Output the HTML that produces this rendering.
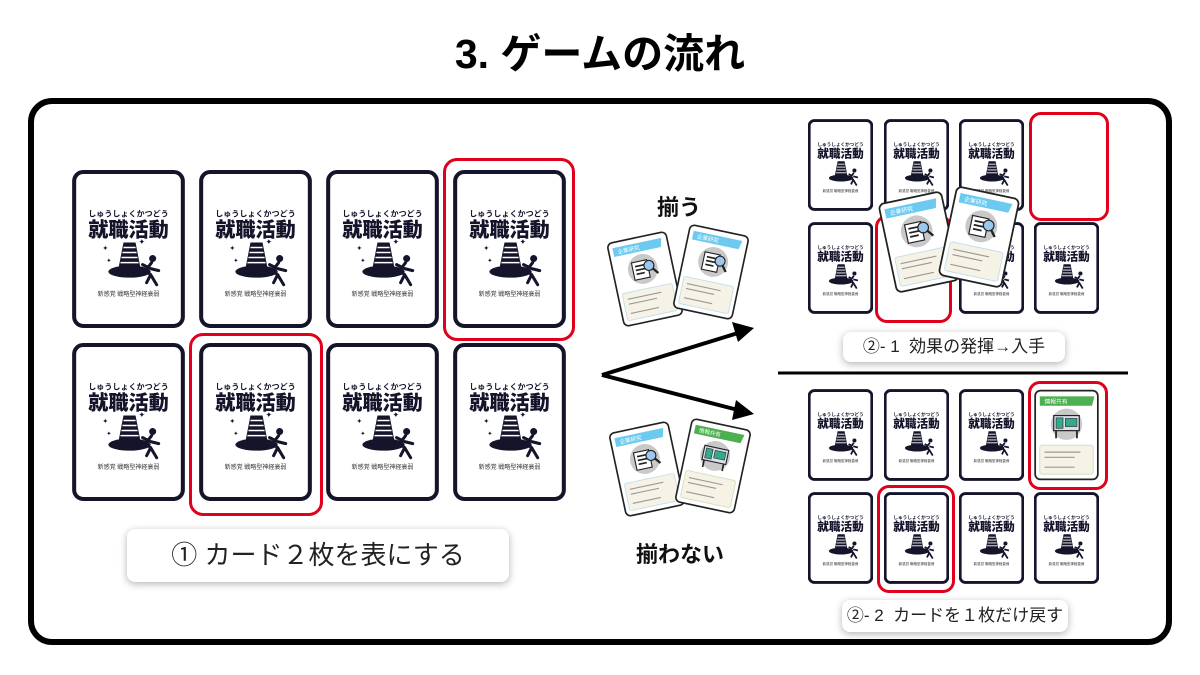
<!DOCTYPE html>
<html><head><meta charset="utf-8"><style>
body{margin:0;width:1200px;height:675px;background:#fff;position:relative;overflow:hidden;font-family:"Liberation Sans","Noto Sans CJK JP",sans-serif;}
.a{position:absolute}
.frame{left:28px;top:98px;width:1132px;height:535px;border:6px solid #000;border-radius:24px}
.title{left:0;width:1200px;top:20px;text-align:center;font-size:41px;font-weight:bold;color:#000}
.c{position:absolute}
.c svg{width:100%;height:100%;display:block}
.red{position:absolute;border:3px solid #e0001b;border-radius:12px}
.lbl{position:absolute;background:#fff;border-radius:8px;box-shadow:0 2px 8px rgba(0,0,0,.3);text-align:center;color:#222}
.bw{position:absolute;font-weight:bold;font-size:22px;color:#111}
</style></head><body>
<div class="a title">3. ゲームの流れ</div>
<div class="a frame"></div>

<div class="red" style="left:443px;top:158px;width:126px;height:177px;border-radius:14px"></div>
<div class="red" style="left:189px;top:333px;width:128px;height:177px;border-radius:14px"></div>

<div class="c" style="left:72px;top:170px;width:113px;height:158px"><svg viewBox="0 0 112 157"><rect x="2" y="2" width="108" height="153" rx="9" fill="#fff" stroke="#14142b" stroke-width="4"/><text x="56" y="46" font-size="8" font-weight="bold" text-anchor="middle" fill="#14142b">しゅうしょくかつどう</text><text x="56" y="66" font-size="20" font-weight="900" text-anchor="middle" fill="#14142b">就職活動</text><path d="M46 98 L51 72 L63 72 L68 98Z" fill="#14142b"/><path d="M51 77H63M50 82H64M49 87H65M48 92H66" stroke="#fff" stroke-width="1.5"/><ellipse cx="57" cy="101" rx="21" ry="6" fill="#14142b"/><circle cx="80" cy="88" r="3.5" fill="#14142b"/><path d="M79 92 L73 100 L78 104 L84 114 M76 97 L70 94 M78 98 L86 100 M78 104 L74 112" stroke="#14142b" stroke-width="3" fill="none" stroke-linecap="round"/><text x="30" y="80" font-size="7" fill="#14142b">✦</text><text x="34" y="92" font-size="6" fill="#14142b">✦</text><text x="66" y="74" font-size="8" fill="#14142b">✦</text><text x="56" y="125" font-size="6" text-anchor="middle" fill="#333">新感覚 戦略型神経衰弱</text></svg></div>
<div class="c" style="left:199px;top:170px;width:113px;height:158px"><svg viewBox="0 0 112 157"><rect x="2" y="2" width="108" height="153" rx="9" fill="#fff" stroke="#14142b" stroke-width="4"/><text x="56" y="46" font-size="8" font-weight="bold" text-anchor="middle" fill="#14142b">しゅうしょくかつどう</text><text x="56" y="66" font-size="20" font-weight="900" text-anchor="middle" fill="#14142b">就職活動</text><path d="M46 98 L51 72 L63 72 L68 98Z" fill="#14142b"/><path d="M51 77H63M50 82H64M49 87H65M48 92H66" stroke="#fff" stroke-width="1.5"/><ellipse cx="57" cy="101" rx="21" ry="6" fill="#14142b"/><circle cx="80" cy="88" r="3.5" fill="#14142b"/><path d="M79 92 L73 100 L78 104 L84 114 M76 97 L70 94 M78 98 L86 100 M78 104 L74 112" stroke="#14142b" stroke-width="3" fill="none" stroke-linecap="round"/><text x="30" y="80" font-size="7" fill="#14142b">✦</text><text x="34" y="92" font-size="6" fill="#14142b">✦</text><text x="66" y="74" font-size="8" fill="#14142b">✦</text><text x="56" y="125" font-size="6" text-anchor="middle" fill="#333">新感覚 戦略型神経衰弱</text></svg></div>
<div class="c" style="left:326px;top:170px;width:113px;height:158px"><svg viewBox="0 0 112 157"><rect x="2" y="2" width="108" height="153" rx="9" fill="#fff" stroke="#14142b" stroke-width="4"/><text x="56" y="46" font-size="8" font-weight="bold" text-anchor="middle" fill="#14142b">しゅうしょくかつどう</text><text x="56" y="66" font-size="20" font-weight="900" text-anchor="middle" fill="#14142b">就職活動</text><path d="M46 98 L51 72 L63 72 L68 98Z" fill="#14142b"/><path d="M51 77H63M50 82H64M49 87H65M48 92H66" stroke="#fff" stroke-width="1.5"/><ellipse cx="57" cy="101" rx="21" ry="6" fill="#14142b"/><circle cx="80" cy="88" r="3.5" fill="#14142b"/><path d="M79 92 L73 100 L78 104 L84 114 M76 97 L70 94 M78 98 L86 100 M78 104 L74 112" stroke="#14142b" stroke-width="3" fill="none" stroke-linecap="round"/><text x="30" y="80" font-size="7" fill="#14142b">✦</text><text x="34" y="92" font-size="6" fill="#14142b">✦</text><text x="66" y="74" font-size="8" fill="#14142b">✦</text><text x="56" y="125" font-size="6" text-anchor="middle" fill="#333">新感覚 戦略型神経衰弱</text></svg></div>
<div class="c" style="left:453px;top:170px;width:113px;height:158px"><svg viewBox="0 0 112 157"><rect x="2" y="2" width="108" height="153" rx="9" fill="#fff" stroke="#14142b" stroke-width="4"/><text x="56" y="46" font-size="8" font-weight="bold" text-anchor="middle" fill="#14142b">しゅうしょくかつどう</text><text x="56" y="66" font-size="20" font-weight="900" text-anchor="middle" fill="#14142b">就職活動</text><path d="M46 98 L51 72 L63 72 L68 98Z" fill="#14142b"/><path d="M51 77H63M50 82H64M49 87H65M48 92H66" stroke="#fff" stroke-width="1.5"/><ellipse cx="57" cy="101" rx="21" ry="6" fill="#14142b"/><circle cx="80" cy="88" r="3.5" fill="#14142b"/><path d="M79 92 L73 100 L78 104 L84 114 M76 97 L70 94 M78 98 L86 100 M78 104 L74 112" stroke="#14142b" stroke-width="3" fill="none" stroke-linecap="round"/><text x="30" y="80" font-size="7" fill="#14142b">✦</text><text x="34" y="92" font-size="6" fill="#14142b">✦</text><text x="66" y="74" font-size="8" fill="#14142b">✦</text><text x="56" y="125" font-size="6" text-anchor="middle" fill="#333">新感覚 戦略型神経衰弱</text></svg></div>
<div class="c" style="left:72px;top:343px;width:113px;height:158px"><svg viewBox="0 0 112 157"><rect x="2" y="2" width="108" height="153" rx="9" fill="#fff" stroke="#14142b" stroke-width="4"/><text x="56" y="46" font-size="8" font-weight="bold" text-anchor="middle" fill="#14142b">しゅうしょくかつどう</text><text x="56" y="66" font-size="20" font-weight="900" text-anchor="middle" fill="#14142b">就職活動</text><path d="M46 98 L51 72 L63 72 L68 98Z" fill="#14142b"/><path d="M51 77H63M50 82H64M49 87H65M48 92H66" stroke="#fff" stroke-width="1.5"/><ellipse cx="57" cy="101" rx="21" ry="6" fill="#14142b"/><circle cx="80" cy="88" r="3.5" fill="#14142b"/><path d="M79 92 L73 100 L78 104 L84 114 M76 97 L70 94 M78 98 L86 100 M78 104 L74 112" stroke="#14142b" stroke-width="3" fill="none" stroke-linecap="round"/><text x="30" y="80" font-size="7" fill="#14142b">✦</text><text x="34" y="92" font-size="6" fill="#14142b">✦</text><text x="66" y="74" font-size="8" fill="#14142b">✦</text><text x="56" y="125" font-size="6" text-anchor="middle" fill="#333">新感覚 戦略型神経衰弱</text></svg></div>
<div class="c" style="left:199px;top:343px;width:113px;height:158px"><svg viewBox="0 0 112 157"><rect x="2" y="2" width="108" height="153" rx="9" fill="#fff" stroke="#14142b" stroke-width="4"/><text x="56" y="46" font-size="8" font-weight="bold" text-anchor="middle" fill="#14142b">しゅうしょくかつどう</text><text x="56" y="66" font-size="20" font-weight="900" text-anchor="middle" fill="#14142b">就職活動</text><path d="M46 98 L51 72 L63 72 L68 98Z" fill="#14142b"/><path d="M51 77H63M50 82H64M49 87H65M48 92H66" stroke="#fff" stroke-width="1.5"/><ellipse cx="57" cy="101" rx="21" ry="6" fill="#14142b"/><circle cx="80" cy="88" r="3.5" fill="#14142b"/><path d="M79 92 L73 100 L78 104 L84 114 M76 97 L70 94 M78 98 L86 100 M78 104 L74 112" stroke="#14142b" stroke-width="3" fill="none" stroke-linecap="round"/><text x="30" y="80" font-size="7" fill="#14142b">✦</text><text x="34" y="92" font-size="6" fill="#14142b">✦</text><text x="66" y="74" font-size="8" fill="#14142b">✦</text><text x="56" y="125" font-size="6" text-anchor="middle" fill="#333">新感覚 戦略型神経衰弱</text></svg></div>
<div class="c" style="left:326px;top:343px;width:113px;height:158px"><svg viewBox="0 0 112 157"><rect x="2" y="2" width="108" height="153" rx="9" fill="#fff" stroke="#14142b" stroke-width="4"/><text x="56" y="46" font-size="8" font-weight="bold" text-anchor="middle" fill="#14142b">しゅうしょくかつどう</text><text x="56" y="66" font-size="20" font-weight="900" text-anchor="middle" fill="#14142b">就職活動</text><path d="M46 98 L51 72 L63 72 L68 98Z" fill="#14142b"/><path d="M51 77H63M50 82H64M49 87H65M48 92H66" stroke="#fff" stroke-width="1.5"/><ellipse cx="57" cy="101" rx="21" ry="6" fill="#14142b"/><circle cx="80" cy="88" r="3.5" fill="#14142b"/><path d="M79 92 L73 100 L78 104 L84 114 M76 97 L70 94 M78 98 L86 100 M78 104 L74 112" stroke="#14142b" stroke-width="3" fill="none" stroke-linecap="round"/><text x="30" y="80" font-size="7" fill="#14142b">✦</text><text x="34" y="92" font-size="6" fill="#14142b">✦</text><text x="66" y="74" font-size="8" fill="#14142b">✦</text><text x="56" y="125" font-size="6" text-anchor="middle" fill="#333">新感覚 戦略型神経衰弱</text></svg></div>
<div class="c" style="left:453px;top:343px;width:113px;height:158px"><svg viewBox="0 0 112 157"><rect x="2" y="2" width="108" height="153" rx="9" fill="#fff" stroke="#14142b" stroke-width="4"/><text x="56" y="46" font-size="8" font-weight="bold" text-anchor="middle" fill="#14142b">しゅうしょくかつどう</text><text x="56" y="66" font-size="20" font-weight="900" text-anchor="middle" fill="#14142b">就職活動</text><path d="M46 98 L51 72 L63 72 L68 98Z" fill="#14142b"/><path d="M51 77H63M50 82H64M49 87H65M48 92H66" stroke="#fff" stroke-width="1.5"/><ellipse cx="57" cy="101" rx="21" ry="6" fill="#14142b"/><circle cx="80" cy="88" r="3.5" fill="#14142b"/><path d="M79 92 L73 100 L78 104 L84 114 M76 97 L70 94 M78 98 L86 100 M78 104 L74 112" stroke="#14142b" stroke-width="3" fill="none" stroke-linecap="round"/><text x="30" y="80" font-size="7" fill="#14142b">✦</text><text x="34" y="92" font-size="6" fill="#14142b">✦</text><text x="66" y="74" font-size="8" fill="#14142b">✦</text><text x="56" y="125" font-size="6" text-anchor="middle" fill="#333">新感覚 戦略型神経衰弱</text></svg></div>

<div class="lbl" style="left:127px;top:529px;width:382px;height:53px;line-height:53px;font-size:26px">① カード２枚を表にする</div>

<svg class="a" style="left:0;top:0" width="1200" height="675"><path d="M602 375 L738 333" stroke="#000" stroke-width="4"/><path d="M754 328 L732 322 L738 342Z" fill="#000"/><path d="M602 375 L738 410" stroke="#000" stroke-width="4"/><path d="M754 414 L736 400 L732 420Z" fill="#000"/><path d="M778 373 H1128" stroke="#000" stroke-width="3"/></svg>

<div class="bw" style="left:657px;top:190px">揃う</div>
<div class="bw" style="left:636px;top:537px">揃わない</div>

<div class="c" style="left:614px;top:235px;width:62px;height:88px;transform:rotate(-12deg)"><svg viewBox="0 0 112 157"><rect x="2" y="2" width="108" height="153" rx="9" fill="#fff" stroke="#222" stroke-width="3"/><path d="M10 12H100L96 28H10Z" fill="#6ccaf0"/><text x="18" y="24" font-size="10" fill="#fff">企業研究</text><circle cx="56" cy="60" r="27" fill="#c9c9c9"/><rect x="38" y="45" width="28" height="32" fill="#fff" stroke="#222" stroke-width="2"/><path d="M43 53H60M43 60H60M43 67H58" stroke="#222" stroke-width="3"/><circle cx="68" cy="56" r="9" fill="#9cc8f0" stroke="#222" stroke-width="2"/><path d="M74 63L82 73" stroke="#222" stroke-width="4"/><rect x="10" y="96" width="92" height="50" rx="4" fill="#f6f3e6" stroke="#bde" stroke-width="1.5"/><path d="M18 108H80M18 117H70M18 134H70" stroke="#999" stroke-width="2"/></svg></div>
<div class="c" style="left:680px;top:228px;width:62px;height:88px;transform:rotate(12deg)"><svg viewBox="0 0 112 157"><rect x="2" y="2" width="108" height="153" rx="9" fill="#fff" stroke="#222" stroke-width="3"/><path d="M10 12H100L96 28H10Z" fill="#6ccaf0"/><text x="18" y="24" font-size="10" fill="#fff">企業研究</text><circle cx="56" cy="60" r="27" fill="#c9c9c9"/><rect x="38" y="45" width="28" height="32" fill="#fff" stroke="#222" stroke-width="2"/><path d="M43 53H60M43 60H60M43 67H58" stroke="#222" stroke-width="3"/><circle cx="68" cy="56" r="9" fill="#9cc8f0" stroke="#222" stroke-width="2"/><path d="M74 63L82 73" stroke="#222" stroke-width="4"/><rect x="10" y="96" width="92" height="50" rx="4" fill="#f6f3e6" stroke="#bde" stroke-width="1.5"/><path d="M18 108H80M18 117H70M18 134H70" stroke="#999" stroke-width="2"/></svg></div>

<div class="c" style="left:616px;top:425px;width:62px;height:88px;transform:rotate(-12deg)"><svg viewBox="0 0 112 157"><rect x="2" y="2" width="108" height="153" rx="9" fill="#fff" stroke="#222" stroke-width="3"/><path d="M10 12H100L96 28H10Z" fill="#6ccaf0"/><text x="18" y="24" font-size="10" fill="#fff">企業研究</text><circle cx="56" cy="60" r="27" fill="#c9c9c9"/><rect x="38" y="45" width="28" height="32" fill="#fff" stroke="#222" stroke-width="2"/><path d="M43 53H60M43 60H60M43 67H58" stroke="#222" stroke-width="3"/><circle cx="68" cy="56" r="9" fill="#9cc8f0" stroke="#222" stroke-width="2"/><path d="M74 63L82 73" stroke="#222" stroke-width="4"/><rect x="10" y="96" width="92" height="50" rx="4" fill="#f6f3e6" stroke="#bde" stroke-width="1.5"/><path d="M18 108H80M18 117H70M18 134H70" stroke="#999" stroke-width="2"/></svg></div>
<div class="c" style="left:682px;top:422px;width:62px;height:88px;transform:rotate(12deg)"><svg viewBox="0 0 112 157"><rect x="2" y="2" width="108" height="153" rx="9" fill="#fff" stroke="#222" stroke-width="3"/><path d="M10 12H100L96 28H10Z" fill="#4caf50"/><text x="18" y="24" font-size="10" fill="#fff">情報共有</text><circle cx="56" cy="60" r="27" fill="#c9c9c9"/><rect x="34" y="45" width="44" height="26" fill="#dde" stroke="#222" stroke-width="2"/><rect x="38" y="49" width="12" height="18" fill="#3a8" stroke="#222"/><rect x="54" y="50" width="20" height="14" fill="#3a8" stroke="#222"/><path d="M38 71V84M74 71V84" stroke="#222" stroke-width="3"/><rect x="10" y="96" width="92" height="50" rx="4" fill="#f6f3e6" stroke="#cdb" stroke-width="1.5"/><path d="M18 108H80M18 117H70M18 134H70" stroke="#999" stroke-width="2"/></svg></div>

<div class="red" style="left:1029px;top:112px;width:74px;height:103px;border-radius:12px"></div>
<div class="red" style="left:875px;top:215px;width:71px;height:102px;border-radius:12px"></div>
<div class="c" style="left:808px;top:119px;width:65px;height:92px"><svg viewBox="0 0 112 157"><rect x="2" y="2" width="108" height="153" rx="9" fill="#fff" stroke="#14142b" stroke-width="5"/><text x="56" y="46" font-size="8" font-weight="bold" text-anchor="middle" fill="#14142b">しゅうしょくかつどう</text><text x="56" y="66" font-size="20" font-weight="900" text-anchor="middle" fill="#14142b">就職活動</text><path d="M46 98 L51 72 L63 72 L68 98Z" fill="#14142b"/><path d="M51 77H63M50 82H64M49 87H65M48 92H66" stroke="#fff" stroke-width="1.5"/><ellipse cx="57" cy="101" rx="21" ry="6" fill="#14142b"/><circle cx="80" cy="88" r="3.5" fill="#14142b"/><path d="M79 92 L73 100 L78 104 L84 114 M76 97 L70 94 M78 98 L86 100 M78 104 L74 112" stroke="#14142b" stroke-width="3" fill="none"/><text x="56" y="125" font-size="6" text-anchor="middle" fill="#333">新感覚 戦略型神経衰弱</text></svg></div>
<div class="c" style="left:884px;top:119px;width:65px;height:92px"><svg viewBox="0 0 112 157"><rect x="2" y="2" width="108" height="153" rx="9" fill="#fff" stroke="#14142b" stroke-width="5"/><text x="56" y="46" font-size="8" font-weight="bold" text-anchor="middle" fill="#14142b">しゅうしょくかつどう</text><text x="56" y="66" font-size="20" font-weight="900" text-anchor="middle" fill="#14142b">就職活動</text><path d="M46 98 L51 72 L63 72 L68 98Z" fill="#14142b"/><path d="M51 77H63M50 82H64M49 87H65M48 92H66" stroke="#fff" stroke-width="1.5"/><ellipse cx="57" cy="101" rx="21" ry="6" fill="#14142b"/><circle cx="80" cy="88" r="3.5" fill="#14142b"/><path d="M79 92 L73 100 L78 104 L84 114 M76 97 L70 94 M78 98 L86 100 M78 104 L74 112" stroke="#14142b" stroke-width="3" fill="none"/><text x="56" y="125" font-size="6" text-anchor="middle" fill="#333">新感覚 戦略型神経衰弱</text></svg></div>
<div class="c" style="left:959px;top:119px;width:65px;height:92px"><svg viewBox="0 0 112 157"><rect x="2" y="2" width="108" height="153" rx="9" fill="#fff" stroke="#14142b" stroke-width="5"/><text x="56" y="46" font-size="8" font-weight="bold" text-anchor="middle" fill="#14142b">しゅうしょくかつどう</text><text x="56" y="66" font-size="20" font-weight="900" text-anchor="middle" fill="#14142b">就職活動</text><path d="M46 98 L51 72 L63 72 L68 98Z" fill="#14142b"/><path d="M51 77H63M50 82H64M49 87H65M48 92H66" stroke="#fff" stroke-width="1.5"/><ellipse cx="57" cy="101" rx="21" ry="6" fill="#14142b"/><circle cx="80" cy="88" r="3.5" fill="#14142b"/><path d="M79 92 L73 100 L78 104 L84 114 M76 97 L70 94 M78 98 L86 100 M78 104 L74 112" stroke="#14142b" stroke-width="3" fill="none"/><text x="56" y="125" font-size="6" text-anchor="middle" fill="#333">新感覚 戦略型神経衰弱</text></svg></div>
<div class="c" style="left:808px;top:222px;width:65px;height:92px"><svg viewBox="0 0 112 157"><rect x="2" y="2" width="108" height="153" rx="9" fill="#fff" stroke="#14142b" stroke-width="5"/><text x="56" y="46" font-size="8" font-weight="bold" text-anchor="middle" fill="#14142b">しゅうしょくかつどう</text><text x="56" y="66" font-size="20" font-weight="900" text-anchor="middle" fill="#14142b">就職活動</text><path d="M46 98 L51 72 L63 72 L68 98Z" fill="#14142b"/><path d="M51 77H63M50 82H64M49 87H65M48 92H66" stroke="#fff" stroke-width="1.5"/><ellipse cx="57" cy="101" rx="21" ry="6" fill="#14142b"/><circle cx="80" cy="88" r="3.5" fill="#14142b"/><path d="M79 92 L73 100 L78 104 L84 114 M76 97 L70 94 M78 98 L86 100 M78 104 L74 112" stroke="#14142b" stroke-width="3" fill="none"/><text x="56" y="125" font-size="6" text-anchor="middle" fill="#333">新感覚 戦略型神経衰弱</text></svg></div>
<div class="c" style="left:959px;top:222px;width:65px;height:92px"><svg viewBox="0 0 112 157"><rect x="2" y="2" width="108" height="153" rx="9" fill="#fff" stroke="#14142b" stroke-width="5"/><text x="56" y="46" font-size="8" font-weight="bold" text-anchor="middle" fill="#14142b">しゅうしょくかつどう</text><text x="56" y="66" font-size="20" font-weight="900" text-anchor="middle" fill="#14142b">就職活動</text><path d="M46 98 L51 72 L63 72 L68 98Z" fill="#14142b"/><path d="M51 77H63M50 82H64M49 87H65M48 92H66" stroke="#fff" stroke-width="1.5"/><ellipse cx="57" cy="101" rx="21" ry="6" fill="#14142b"/><circle cx="80" cy="88" r="3.5" fill="#14142b"/><path d="M79 92 L73 100 L78 104 L84 114 M76 97 L70 94 M78 98 L86 100 M78 104 L74 112" stroke="#14142b" stroke-width="3" fill="none"/><text x="56" y="125" font-size="6" text-anchor="middle" fill="#333">新感覚 戦略型神経衰弱</text></svg></div>
<div class="c" style="left:1034px;top:222px;width:65px;height:92px"><svg viewBox="0 0 112 157"><rect x="2" y="2" width="108" height="153" rx="9" fill="#fff" stroke="#14142b" stroke-width="5"/><text x="56" y="46" font-size="8" font-weight="bold" text-anchor="middle" fill="#14142b">しゅうしょくかつどう</text><text x="56" y="66" font-size="20" font-weight="900" text-anchor="middle" fill="#14142b">就職活動</text><path d="M46 98 L51 72 L63 72 L68 98Z" fill="#14142b"/><path d="M51 77H63M50 82H64M49 87H65M48 92H66" stroke="#fff" stroke-width="1.5"/><ellipse cx="57" cy="101" rx="21" ry="6" fill="#14142b"/><circle cx="80" cy="88" r="3.5" fill="#14142b"/><path d="M79 92 L73 100 L78 104 L84 114 M76 97 L70 94 M78 98 L86 100 M78 104 L74 112" stroke="#14142b" stroke-width="3" fill="none"/><text x="56" y="125" font-size="6" text-anchor="middle" fill="#333">新感覚 戦略型神経衰弱</text></svg></div>
<div class="c" style="left:886px;top:195px;width:66px;height:94px;transform:rotate(-12deg)"><svg viewBox="0 0 112 157"><rect x="2" y="2" width="108" height="153" rx="9" fill="#fff" stroke="#222" stroke-width="3"/><path d="M10 12H100L96 28H10Z" fill="#6ccaf0"/><text x="18" y="24" font-size="10" fill="#fff">企業研究</text><circle cx="56" cy="60" r="27" fill="#c9c9c9"/><rect x="38" y="45" width="28" height="32" fill="#fff" stroke="#222" stroke-width="2"/><path d="M43 53H60M43 60H60M43 67H58" stroke="#222" stroke-width="3"/><circle cx="68" cy="56" r="9" fill="#9cc8f0" stroke="#222" stroke-width="2"/><path d="M74 63L82 73" stroke="#222" stroke-width="4"/><rect x="10" y="96" width="92" height="50" rx="4" fill="#f6f3e6" stroke="#bde" stroke-width="1.5"/><path d="M18 108H80M18 117H70M18 134H70" stroke="#999" stroke-width="2"/></svg></div>
<div class="c" style="left:946px;top:190px;width:66px;height:94px;transform:rotate(12deg)"><svg viewBox="0 0 112 157"><rect x="2" y="2" width="108" height="153" rx="9" fill="#fff" stroke="#222" stroke-width="3"/><path d="M10 12H100L96 28H10Z" fill="#6ccaf0"/><text x="18" y="24" font-size="10" fill="#fff">企業研究</text><circle cx="56" cy="60" r="27" fill="#c9c9c9"/><rect x="38" y="45" width="28" height="32" fill="#fff" stroke="#222" stroke-width="2"/><path d="M43 53H60M43 60H60M43 67H58" stroke="#222" stroke-width="3"/><circle cx="68" cy="56" r="9" fill="#9cc8f0" stroke="#222" stroke-width="2"/><path d="M74 63L82 73" stroke="#222" stroke-width="4"/><rect x="10" y="96" width="92" height="50" rx="4" fill="#f6f3e6" stroke="#bde" stroke-width="1.5"/><path d="M18 108H80M18 117H70M18 134H70" stroke="#999" stroke-width="2"/></svg></div>

<div class="lbl" style="left:843px;top:332px;width:222px;height:30px;line-height:30px;font-size:17px">②- 1 &nbsp;効果の発揮→入手</div>

<div class="red" style="left:1028px;top:381px;width:74px;height:103px;border-radius:12px"></div>
<div class="red" style="left:877px;top:485px;width:72px;height:102px;border-radius:12px"></div>
<div class="c" style="left:808px;top:389px;width:65px;height:92px"><svg viewBox="0 0 112 157"><rect x="2" y="2" width="108" height="153" rx="9" fill="#fff" stroke="#14142b" stroke-width="5"/><text x="56" y="46" font-size="8" font-weight="bold" text-anchor="middle" fill="#14142b">しゅうしょくかつどう</text><text x="56" y="66" font-size="20" font-weight="900" text-anchor="middle" fill="#14142b">就職活動</text><path d="M46 98 L51 72 L63 72 L68 98Z" fill="#14142b"/><path d="M51 77H63M50 82H64M49 87H65M48 92H66" stroke="#fff" stroke-width="1.5"/><ellipse cx="57" cy="101" rx="21" ry="6" fill="#14142b"/><circle cx="80" cy="88" r="3.5" fill="#14142b"/><path d="M79 92 L73 100 L78 104 L84 114 M76 97 L70 94 M78 98 L86 100 M78 104 L74 112" stroke="#14142b" stroke-width="3" fill="none"/><text x="56" y="125" font-size="6" text-anchor="middle" fill="#333">新感覚 戦略型神経衰弱</text></svg></div>
<div class="c" style="left:884px;top:389px;width:65px;height:92px"><svg viewBox="0 0 112 157"><rect x="2" y="2" width="108" height="153" rx="9" fill="#fff" stroke="#14142b" stroke-width="5"/><text x="56" y="46" font-size="8" font-weight="bold" text-anchor="middle" fill="#14142b">しゅうしょくかつどう</text><text x="56" y="66" font-size="20" font-weight="900" text-anchor="middle" fill="#14142b">就職活動</text><path d="M46 98 L51 72 L63 72 L68 98Z" fill="#14142b"/><path d="M51 77H63M50 82H64M49 87H65M48 92H66" stroke="#fff" stroke-width="1.5"/><ellipse cx="57" cy="101" rx="21" ry="6" fill="#14142b"/><circle cx="80" cy="88" r="3.5" fill="#14142b"/><path d="M79 92 L73 100 L78 104 L84 114 M76 97 L70 94 M78 98 L86 100 M78 104 L74 112" stroke="#14142b" stroke-width="3" fill="none"/><text x="56" y="125" font-size="6" text-anchor="middle" fill="#333">新感覚 戦略型神経衰弱</text></svg></div>
<div class="c" style="left:959px;top:389px;width:65px;height:92px"><svg viewBox="0 0 112 157"><rect x="2" y="2" width="108" height="153" rx="9" fill="#fff" stroke="#14142b" stroke-width="5"/><text x="56" y="46" font-size="8" font-weight="bold" text-anchor="middle" fill="#14142b">しゅうしょくかつどう</text><text x="56" y="66" font-size="20" font-weight="900" text-anchor="middle" fill="#14142b">就職活動</text><path d="M46 98 L51 72 L63 72 L68 98Z" fill="#14142b"/><path d="M51 77H63M50 82H64M49 87H65M48 92H66" stroke="#fff" stroke-width="1.5"/><ellipse cx="57" cy="101" rx="21" ry="6" fill="#14142b"/><circle cx="80" cy="88" r="3.5" fill="#14142b"/><path d="M79 92 L73 100 L78 104 L84 114 M76 97 L70 94 M78 98 L86 100 M78 104 L74 112" stroke="#14142b" stroke-width="3" fill="none"/><text x="56" y="125" font-size="6" text-anchor="middle" fill="#333">新感覚 戦略型神経衰弱</text></svg></div>
<div class="c" style="left:1034px;top:389px;width:65px;height:92px"><svg viewBox="0 0 112 157"><rect x="2" y="2" width="108" height="153" rx="9" fill="#fff" stroke="#222" stroke-width="3"/><path d="M10 12H104L100 28H10Z" fill="#4caf50"/><text x="18" y="24" font-size="10" fill="#fff">情報共有</text><circle cx="56" cy="60" r="27" fill="#c9c9c9"/><rect x="34" y="45" width="44" height="26" fill="#dde" stroke="#222" stroke-width="2"/><rect x="38" y="49" width="12" height="18" fill="#3a8" stroke="#222"/><rect x="54" y="50" width="20" height="14" fill="#3a8" stroke="#222"/><path d="M38 71V84M74 71V84" stroke="#222" stroke-width="3"/><rect x="10" y="96" width="92" height="50" rx="4" fill="#f6f3e6" stroke="#cdb" stroke-width="1.5"/><path d="M18 108H80M18 117H70M18 134H70" stroke="#999" stroke-width="2"/></svg></div>
<div class="c" style="left:808px;top:492px;width:65px;height:92px"><svg viewBox="0 0 112 157"><rect x="2" y="2" width="108" height="153" rx="9" fill="#fff" stroke="#14142b" stroke-width="5"/><text x="56" y="46" font-size="8" font-weight="bold" text-anchor="middle" fill="#14142b">しゅうしょくかつどう</text><text x="56" y="66" font-size="20" font-weight="900" text-anchor="middle" fill="#14142b">就職活動</text><path d="M46 98 L51 72 L63 72 L68 98Z" fill="#14142b"/><path d="M51 77H63M50 82H64M49 87H65M48 92H66" stroke="#fff" stroke-width="1.5"/><ellipse cx="57" cy="101" rx="21" ry="6" fill="#14142b"/><circle cx="80" cy="88" r="3.5" fill="#14142b"/><path d="M79 92 L73 100 L78 104 L84 114 M76 97 L70 94 M78 98 L86 100 M78 104 L74 112" stroke="#14142b" stroke-width="3" fill="none"/><text x="56" y="125" font-size="6" text-anchor="middle" fill="#333">新感覚 戦略型神経衰弱</text></svg></div>
<div class="c" style="left:884px;top:492px;width:65px;height:92px"><svg viewBox="0 0 112 157"><rect x="2" y="2" width="108" height="153" rx="9" fill="#fff" stroke="#14142b" stroke-width="5"/><text x="56" y="46" font-size="8" font-weight="bold" text-anchor="middle" fill="#14142b">しゅうしょくかつどう</text><text x="56" y="66" font-size="20" font-weight="900" text-anchor="middle" fill="#14142b">就職活動</text><path d="M46 98 L51 72 L63 72 L68 98Z" fill="#14142b"/><path d="M51 77H63M50 82H64M49 87H65M48 92H66" stroke="#fff" stroke-width="1.5"/><ellipse cx="57" cy="101" rx="21" ry="6" fill="#14142b"/><circle cx="80" cy="88" r="3.5" fill="#14142b"/><path d="M79 92 L73 100 L78 104 L84 114 M76 97 L70 94 M78 98 L86 100 M78 104 L74 112" stroke="#14142b" stroke-width="3" fill="none"/><text x="56" y="125" font-size="6" text-anchor="middle" fill="#333">新感覚 戦略型神経衰弱</text></svg></div>
<div class="c" style="left:959px;top:492px;width:65px;height:92px"><svg viewBox="0 0 112 157"><rect x="2" y="2" width="108" height="153" rx="9" fill="#fff" stroke="#14142b" stroke-width="5"/><text x="56" y="46" font-size="8" font-weight="bold" text-anchor="middle" fill="#14142b">しゅうしょくかつどう</text><text x="56" y="66" font-size="20" font-weight="900" text-anchor="middle" fill="#14142b">就職活動</text><path d="M46 98 L51 72 L63 72 L68 98Z" fill="#14142b"/><path d="M51 77H63M50 82H64M49 87H65M48 92H66" stroke="#fff" stroke-width="1.5"/><ellipse cx="57" cy="101" rx="21" ry="6" fill="#14142b"/><circle cx="80" cy="88" r="3.5" fill="#14142b"/><path d="M79 92 L73 100 L78 104 L84 114 M76 97 L70 94 M78 98 L86 100 M78 104 L74 112" stroke="#14142b" stroke-width="3" fill="none"/><text x="56" y="125" font-size="6" text-anchor="middle" fill="#333">新感覚 戦略型神経衰弱</text></svg></div>
<div class="c" style="left:1034px;top:492px;width:65px;height:92px"><svg viewBox="0 0 112 157"><rect x="2" y="2" width="108" height="153" rx="9" fill="#fff" stroke="#14142b" stroke-width="5"/><text x="56" y="46" font-size="8" font-weight="bold" text-anchor="middle" fill="#14142b">しゅうしょくかつどう</text><text x="56" y="66" font-size="20" font-weight="900" text-anchor="middle" fill="#14142b">就職活動</text><path d="M46 98 L51 72 L63 72 L68 98Z" fill="#14142b"/><path d="M51 77H63M50 82H64M49 87H65M48 92H66" stroke="#fff" stroke-width="1.5"/><ellipse cx="57" cy="101" rx="21" ry="6" fill="#14142b"/><circle cx="80" cy="88" r="3.5" fill="#14142b"/><path d="M79 92 L73 100 L78 104 L84 114 M76 97 L70 94 M78 98 L86 100 M78 104 L74 112" stroke="#14142b" stroke-width="3" fill="none"/><text x="56" y="125" font-size="6" text-anchor="middle" fill="#333">新感覚 戦略型神経衰弱</text></svg></div>

<div class="lbl" style="left:842px;top:600px;width:226px;height:32px;line-height:32px;font-size:17px">②- 2 &nbsp;カードを１枚だけ戻す</div>
</body></html>
